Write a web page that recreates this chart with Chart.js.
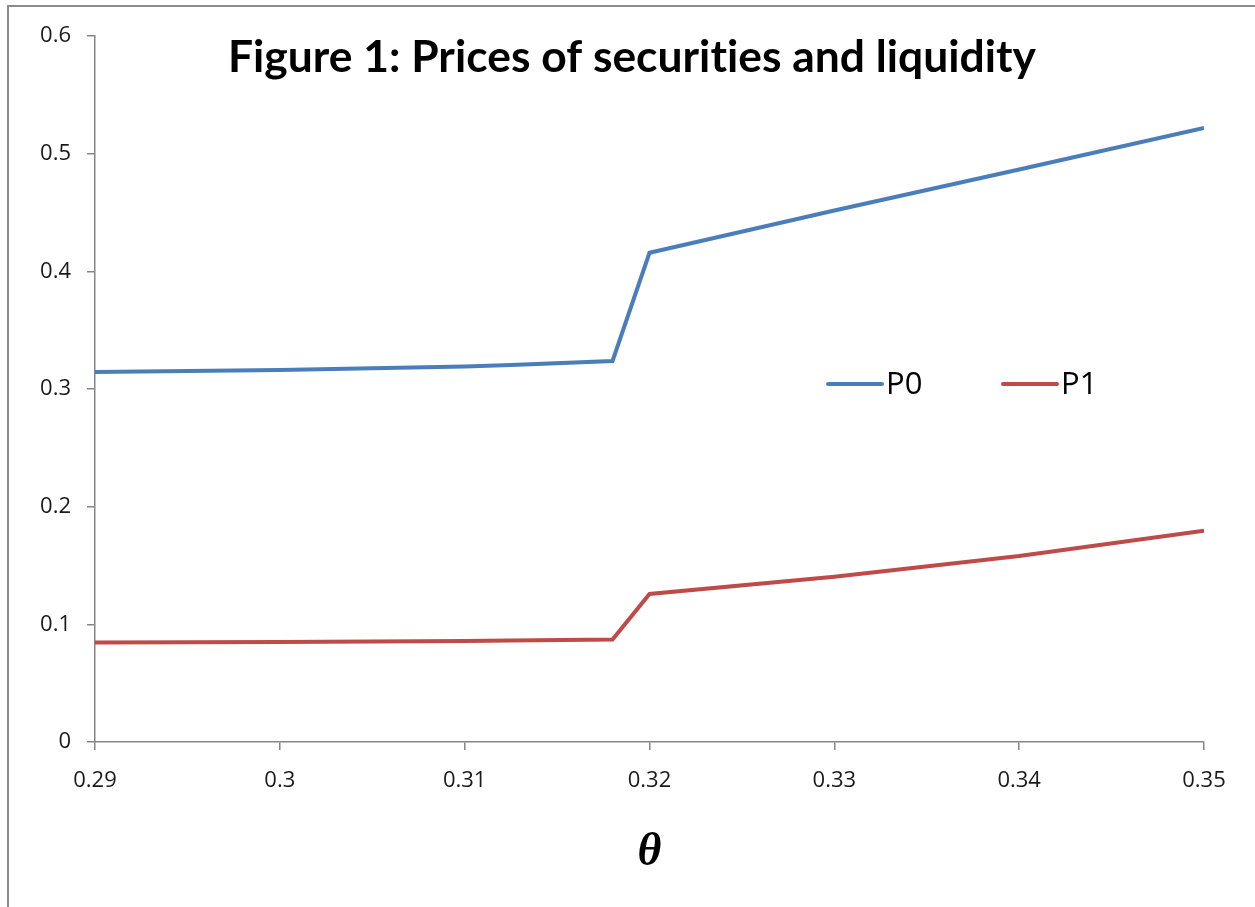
<!DOCTYPE html>
<html>
<head>
<meta charset="utf-8">
<script src="https://cdn.jsdelivr.net/npm/chart.js@4/dist/chart.umd.min.js"></script>
<style>
  html, body { margin: 0; padding: 0; background: #fff; }
  #wrap { position: relative; width: 1255px; height: 907px; overflow: hidden; }
  #frame { position: absolute; left: 7px; top: 5px; width: 1300px; height: 950px;
           border-top: 2px solid #8c8c8c; border-left: 2px solid #8c8c8c; }
  canvas { position: absolute; left: 0; top: 0; }
</style>
</head>
<body>
<div id="wrap">
  <div id="frame"></div>
  <canvas id="chart" width="1255" height="907"></canvas>
</div>
<script>
// 数据
const titleText = 'Figure 1: Prices of securities and liquidity';
const xLabel = 'θ';
const theta = [0.29, 0.30, 0.31, 0.3125, 0.318, 0.32, 0.33, 0.34, 0.35];
const p0 = [0.3144, 0.3162, 0.3192, 0.3203, 0.3238, 0.4158, 0.4517, 0.4865, 0.5218];
const p1 = [0.0845, 0.0850, 0.0858, 0.0862, 0.0872, 0.1258, 0.1405, 0.1580, 0.1795];
const seriesNames = ['P0', 'P1'];
const seriesColors = ['#4a7ebb', '#be4b48'];

function toPoints(ys) {
    return theta.map(function(x, i) { return { x: x, y: ys[i] }; });
}

// 标题和图例（画在绘图区内部）
const overlayPlugin = {
    id: 'overlay',
    afterDraw: function(chart) {
        const ctx = chart.ctx;
        ctx.save();

        // title
        ctx.font = 'bold 44px Lato';
        ctx.letterSpacing = '0.01px';   // no "ti" ligature
        ctx.fillStyle = '#000';
        ctx.textBaseline = 'alphabetic';
        const w = ctx.measureText(titleText).width;
        const target = 808;
        ctx.translate(632, 72);
        ctx.scale(target / w, 1);
        ctx.textAlign = 'center';
        ctx.fillText(titleText, 0, 0);
        ctx.setTransform(1, 0, 0, 1, 0, 0);
        ctx.letterSpacing = '0px';

        // legend
        const legendX = [828, 1003];
        ctx.font = '31px "Open Sans"';
        ctx.textAlign = 'left';
        ctx.textBaseline = 'middle';
        chart.data.datasets.forEach(function(ds, i) {
            const x = legendX[i];
            const y = 384;
            ctx.strokeStyle = ds.borderColor;
            ctx.lineWidth = 4;
            ctx.lineCap = 'round';
            ctx.beginPath();
            ctx.moveTo(x, y);
            ctx.lineTo(x + 54, y);
            ctx.stroke();
            ctx.fillStyle = '#000';
            ctx.fillText(ds.label, x + 58, y + 1);
        });
        ctx.restore();
    }
};

const tickFont = { family: '"Open Sans"', size: 22 };

new Chart(document.getElementById('chart').getContext('2d'), {
    type: 'line',
    data: {
        datasets: [{
            label: seriesNames[0],
            data: toPoints(p0),
            borderColor: seriesColors[0],
            backgroundColor: seriesColors[0],
            borderWidth: 4,
            pointRadius: 0,
            tension: 0
        }, {
            label: seriesNames[1],
            data: toPoints(p1),
            borderColor: seriesColors[1],
            backgroundColor: seriesColors[1],
            borderWidth: 4,
            pointRadius: 0,
            tension: 0
        }]
    },
    options: {
        responsive: false,
        animation: false,
        layout: { padding: { left: 0, right: 51, top: 36, bottom: 0 } },
        plugins: {
            legend: { display: false },
            title: { display: false },
            tooltip: { enabled: false }
        },
        scales: {
            x: {
                type: 'linear',
                min: 0.29,
                max: 0.35,
                afterFit: function(scale) { scale.height = 165; },
                ticks: {
                    stepSize: 0.01,
                    color: '#1a1a1a',
                    font: tickFont,
                    padding: 18,
                    maxRotation: 0,
                    callback: function(v) { return String(parseFloat(v.toFixed(2))); }
                },
                grid: { drawOnChartArea: false, tickLength: 8, color: '#868686', lineWidth: 1.5 },
                border: { color: '#868686', width: 1.5 },
                title: {
                    display: true,
                    text: xLabel,
                    color: '#000',
                    font: { family: '"Liberation Serif"', style: 'italic', weight: 'bold', size: 46 },
                    padding: { top: 0, bottom: 26 }
                }
            },
            y: {
                min: 0,
                max: 0.6,
                afterFit: function(scale) { scale.width = 95; },
                ticks: {
                    stepSize: 0.1,
                    color: '#1a1a1a',
                    font: tickFont,
                    padding: 16,
                    callback: function(v) { return String(parseFloat(v.toFixed(1))); }
                },
                grid: { drawOnChartArea: false, tickLength: 8, color: '#868686', lineWidth: 1.5 },
                border: { color: '#868686', width: 1.5 }
            }
        }
    },
    plugins: [overlayPlugin]
});
</script>
</body>
</html>
